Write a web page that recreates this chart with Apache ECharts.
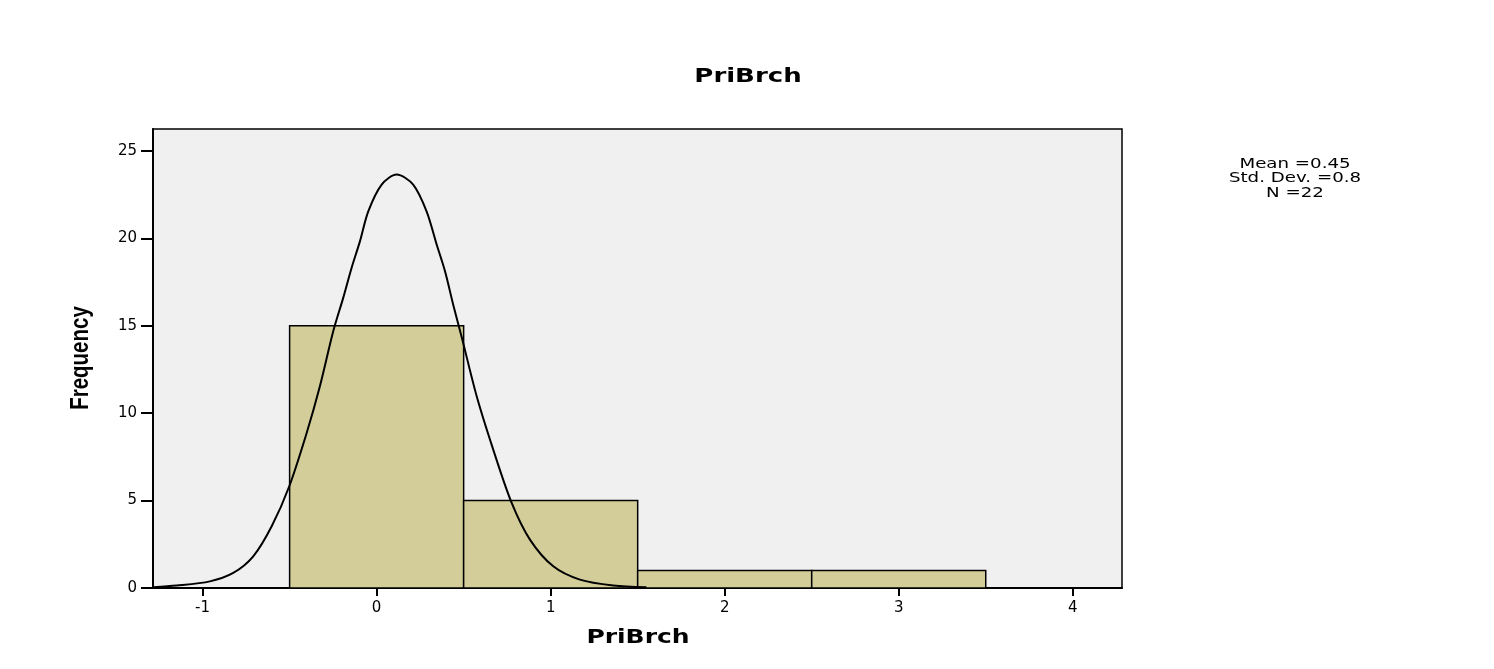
<!DOCTYPE html>
<html>
<head>
<meta charset="utf-8">
<script src="https://cdn.jsdelivr.net/npm/echarts@6/dist/echarts.min.js"></script>
<style>
  html, body { margin: 0; padding: 0; background: #fff; }
  #chart { width: 1494px; height: 669px; }
</style>
</head>
<body>
<div id="chart"></div>
<script>
// histogram bins (lower edge, upper edge) and counts
const binLow = [-0.5, 0.5, 1.5, 2.5];
const binHigh = [0.5, 1.5, 2.5, 3.5];
const counts = [15, 5, 1, 1];

// normal curve
const curveX = [-1.284, -1.149, -0.958, -0.824, -0.709, -0.603, -0.502, -0.402, -0.326, -0.249, -0.192, -0.144, -0.096, -0.048, 0.029, 0.115, 0.21, 0.287, 0.345, 0.393, 0.44, 0.489, 0.575, 0.67, 0.776, 0.881, 1.015, 1.168, 1.36, 1.55];
const curveY = [0.05, 0.14, 0.38, 0.86, 1.81, 3.53, 5.82, 8.87, 11.54, 14.7, 16.6, 18.31, 19.83, 21.55, 23.08, 23.65, 23.08, 21.55, 19.65, 18.12, 16.21, 14.35, 10.97, 7.92, 4.87, 2.77, 1.24, 0.48, 0.14, 0.04];

const xTicks = [-1, 0, 1, 2, 3, 4];
const yTicks = [0, 5, 10, 15, 20, 25];
const statLines = ['Mean =0.45', 'Std. Dev. =0.8', 'N =22'];

const chart = echarts.init(document.getElementById('chart'));

const histData = binLow.map((lo, i) => [lo, binHigh[i], counts[i]]);
const curveData = curveX.map((x, i) => [x, curveY[i]]);

const font = 'DejaVu Sans, Liberation Sans, sans-serif';

// stretched labels like the SPSS output
const wideText = (text, x, y, size, bold, sx) => ({
  type: 'text',
  x: x, y: y,
  scaleX: sx,
  style: {
    text: text,
    textAlign: 'center',
    textVerticalAlign: 'middle',
    fontFamily: font,
    fontSize: size,
    fontWeight: bold ? 'bold' : 'normal',
    fill: '#000'
  }
});

const option = {
  animation: false,
  backgroundColor: '#fff',
  grid: {
    left: 153, top: 129, width: 969, height: 459,
    show: true,
    backgroundColor: '#f0f0f0',
    borderColor: '#000',
    borderWidth: 1.5
  },
  xAxis: {
    type: 'value',
    min: -1.285,
    max: 4.283,
    axisLine: { onZero: false, lineStyle: { color: '#000', width: 2 } },
    axisTick: { show: true, customValues: xTicks, length: 8, lineStyle: { color: '#000', width: 2 } },
    axisLabel: { customValues: xTicks, fontFamily: font, fontSize: 15, color: '#000', margin: 13 },
    splitLine: { show: false }
  },
  yAxis: {
    type: 'value',
    min: 0,
    max: 26.26,
    axisLine: { show: true, onZero: false, lineStyle: { color: '#000', width: 2 } },
    axisTick: { show: true, customValues: yTicks, length: 12, lineStyle: { color: '#000', width: 2 } },
    axisLabel: { customValues: yTicks, fontFamily: font, fontSize: 15, color: '#000', margin: 16 },
    splitLine: { show: false }
  },
  graphic: [
    wideText('PriBrch', 748, 77, 20, true, 1.3),
    wideText('PriBrch', 638, 638, 20, true, 1.25),
    {
      type: 'text',
      x: 81, y: 358,
      rotation: Math.PI / 2,
      scaleX: 0.82,
      style: {
        text: 'Frequency',
        textAlign: 'center',
        textVerticalAlign: 'middle',
        fontFamily: 'Liberation Sans, Arial, sans-serif',
        fontSize: 25,
        fontWeight: 'bold',
        fill: '#000'
      }
    }
  ].concat(statLines.map((t, i) => wideText(t, 1295, 164 + i * 14.5, 14, false, 1.3))),
  series: [
    {
      type: 'custom',
      data: histData,
      encode: { x: [0, 1], y: 2 },
      renderItem: (params, api) => {
        const p0 = api.coord([api.value(0), 0]);
        const p1 = api.coord([api.value(1), api.value(2)]);
        return {
          type: 'rect',
          shape: { x: p0[0], y: p1[1], width: p1[0] - p0[0], height: p0[1] - p1[1] },
          style: { fill: '#d3ce99', stroke: '#000', lineWidth: 1.5 }
        };
      },
      z: 2
    },
    {
      type: 'line',
      data: curveData,
      smooth: 0.3,
      showSymbol: false,
      lineStyle: { color: '#000', width: 2 },
      z: 3
    }
  ]
};

chart.setOption(option);
</script>
</body>
</html>
